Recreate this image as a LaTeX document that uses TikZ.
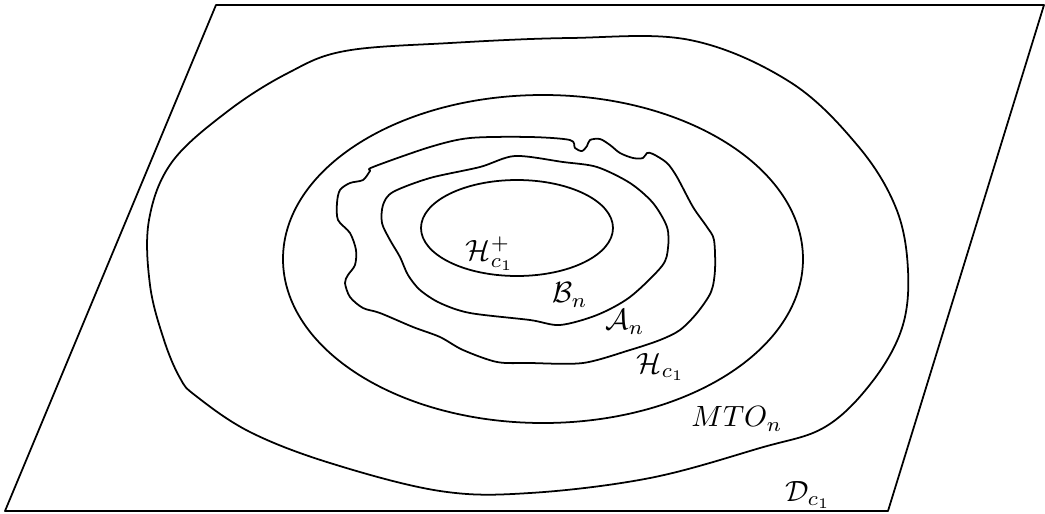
\documentclass[tikz,border=0pt]{standalone}
\usepackage{amsmath}
\usepackage{tikz}
\tikzset{
  level/.style={line width=0.6pt, line join=round},
  tag/.style={inner sep=1pt}
}
\begin{document}
\begin{tikzpicture}[x=0.012cm, y=-0.012cm]
  \useasboundingbox (0,0) rectangle (1045,514);
  \draw[level] (216,5) -- (1044,5) -- (888,511) -- (5,511) -- cycle;
  \draw[level] plot[smooth cycle, tension=0.6] coordinates {
    (345,51) (450,43) (570,38) (690,40) (790,82) (858,146) (896,208) (908,270)
    (902,328) (872,382) (825,427) (760,448) (650,478) (530,493) (440,491)
    (330,463) (250,432) (196,396) (180,378) (164,340) (150,285) (149,220)
    (172,162) (228,111) (288,73)};
  \draw[level] (543,259) ellipse [x radius=260, y radius=164];
  \draw[level] plot[smooth cycle, tension=0.5] coordinates {
    (340,190) (350,183) (363,180) (370,171) (373,167) (430,147) (470,138)
    (530,137) (570,140) (575,148) (582,151) (587,146) (590,140) (600,139)
    (610,145) (620,153) (633,158) (643,158) (647,153) (653,154) (667,163)
    (677,177) (693,207) (707,227) (714,240) (715,270) (711,292) (697,313)
    (680,330) (660,340) (630,350) (583,363) (530,363) (497,362) (463,350)
    (440,337) (413,327) (380,313) (363,308) (350,297) (345,283) (348,275)
    (355,265) (356,250) (350,233) (338,220) (337,203)};
  \draw[level] plot[smooth cycle, tension=0.5] coordinates {
    (393,192) (430,178) (480,167) (515,156) (563,162) (597,167) (630,183)
    (653,203) (667,227) (668,248) (662,266) (630,297) (597,315) (560,325)
    (530,320) (470,313) (440,303) (420,290) (408,275) (400,257) (390,240)
    (382,223) (383,205)};
  \draw[level] (517,228) ellipse [x radius=96, y radius=48];
  \node[tag] (Hplus) at (490,254) {$\mathcal{H}_{c_1}^{+}$};
  \node[tag] (Bn) at (570,295) {$\mathcal{B}_n$};
  \node[tag] (An) at (625,322) {$\mathcal{A}_n$};
  \node[tag] (Hc) at (661,367) {$\mathcal{H}_{c_1}$};
  \node[tag] (MTO) at (737,419) {$MTO_n$};
  \node[tag] (Dc) at (808,495) {$\mathcal{D}_{c_1}$};
\end{tikzpicture}
\end{document}
